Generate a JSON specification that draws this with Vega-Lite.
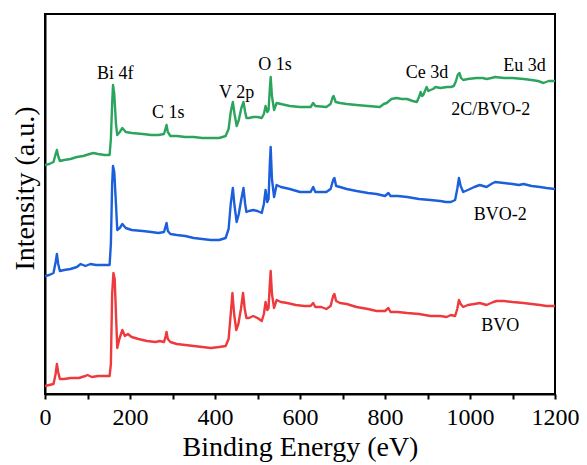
{
 "$schema": "https://vega.github.io/schema/vega-lite/v6.json",
 "width": 510,
 "height": 380,
 "autosize": {"type": "none"},
 "padding": {"left": 45, "top": 14, "right": 32, "bottom": 71},
 "background": "white",
 "config": {
  "view": {"stroke": "black", "strokeWidth": 2},
  "font": "Liberation Serif",
  "axis": {"labelFont": "Liberation Serif", "titleFont": "Liberation Serif"},
  "style": {"guide-label": {"font": "Liberation Serif"}, "guide-title": {"font": "Liberation Serif"}}
 },
 "datasets": {
  "spectra": [
   {"s":"BVO","E":0,"I":8},{"s":"BVO","E":10,"I":9},{"s":"BVO","E":20,"I":10},{"s":"BVO","E":25,"I":20},{"s":"BVO","E":28,"I":30},{"s":"BVO","E":31,"I":22},{"s":"BVO","E":35,"I":15},{"s":"BVO","E":45,"I":15},{"s":"BVO","E":60,"I":16},{"s":"BVO","E":80,"I":16},{"s":"BVO","E":95,"I":18},{"s":"BVO","E":100,"I":19},{"s":"BVO","E":110,"I":17},{"s":"BVO","E":125,"I":18},{"s":"BVO","E":140,"I":18},{"s":"BVO","E":152,"I":18},{"s":"BVO","E":155,"I":30},{"s":"BVO","E":158,"I":100},{"s":"BVO","E":161,"I":121},{"s":"BVO","E":164,"I":115},{"s":"BVO","E":167,"I":80},{"s":"BVO","E":170,"I":46},{"s":"BVO","E":175,"I":55},{"s":"BVO","E":182,"I":64},{"s":"BVO","E":188,"I":58},{"s":"BVO","E":195,"I":60},{"s":"BVO","E":204,"I":57},{"s":"BVO","E":220,"I":55},{"s":"BVO","E":240,"I":53},{"s":"BVO","E":260,"I":52},{"s":"BVO","E":270,"I":53},{"s":"BVO","E":280,"I":52},{"s":"BVO","E":284,"I":58},{"s":"BVO","E":286,"I":62},{"s":"BVO","E":289,"I":55},{"s":"BVO","E":295,"I":52},{"s":"BVO","E":310,"I":50},{"s":"BVO","E":330,"I":49},{"s":"BVO","E":350,"I":48},{"s":"BVO","E":370,"I":47},{"s":"BVO","E":390,"I":46},{"s":"BVO","E":410,"I":47},{"s":"BVO","E":425,"I":48},{"s":"BVO","E":432,"I":55},{"s":"BVO","E":437,"I":80},{"s":"BVO","E":441,"I":101},{"s":"BVO","E":445,"I":80},{"s":"BVO","E":450,"I":64},{"s":"BVO","E":455,"I":70},{"s":"BVO","E":461,"I":85},{"s":"BVO","E":466,"I":101},{"s":"BVO","E":470,"I":85},{"s":"BVO","E":474,"I":76},{"s":"BVO","E":480,"I":76},{"s":"BVO","E":490,"I":78},{"s":"BVO","E":500,"I":76},{"s":"BVO","E":510,"I":73},{"s":"BVO","E":515,"I":80},{"s":"BVO","E":519,"I":92},{"s":"BVO","E":523,"I":84},{"s":"BVO","E":526,"I":86},{"s":"BVO","E":529,"I":110},{"s":"BVO","E":531,"I":123},{"s":"BVO","E":534,"I":100},{"s":"BVO","E":539,"I":86},{"s":"BVO","E":545,"I":94},{"s":"BVO","E":555,"I":92},{"s":"BVO","E":570,"I":91},{"s":"BVO","E":590,"I":89},{"s":"BVO","E":610,"I":88},{"s":"BVO","E":625,"I":88},{"s":"BVO","E":631,"I":91},{"s":"BVO","E":636,"I":87},{"s":"BVO","E":650,"I":87},{"s":"BVO","E":662,"I":85},{"s":"BVO","E":672,"I":88},{"s":"BVO","E":678,"I":98},{"s":"BVO","E":681,"I":100},{"s":"BVO","E":685,"I":93},{"s":"BVO","E":694,"I":91},{"s":"BVO","E":710,"I":90},{"s":"BVO","E":733,"I":87},{"s":"BVO","E":760,"I":85},{"s":"BVO","E":780,"I":83},{"s":"BVO","E":800,"I":83},{"s":"BVO","E":808,"I":86},{"s":"BVO","E":813,"I":82},{"s":"BVO","E":830,"I":82},{"s":"BVO","E":852,"I":81},{"s":"BVO","E":880,"I":80},{"s":"BVO","E":907,"I":78},{"s":"BVO","E":930,"I":78},{"s":"BVO","E":945,"I":77},{"s":"BVO","E":955,"I":79},{"s":"BVO","E":965,"I":78},{"s":"BVO","E":970,"I":85},{"s":"BVO","E":974,"I":94},{"s":"BVO","E":978,"I":90},{"s":"BVO","E":984,"I":87},{"s":"BVO","E":995,"I":89},{"s":"BVO","E":1010,"I":90},{"s":"BVO","E":1023,"I":91},{"s":"BVO","E":1039,"I":89},{"s":"BVO","E":1055,"I":92},{"s":"BVO","E":1063,"I":93},{"s":"BVO","E":1080,"I":93},{"s":"BVO","E":1100,"I":92},{"s":"BVO","E":1126,"I":91},{"s":"BVO","E":1145,"I":90},{"s":"BVO","E":1165,"I":89},{"s":"BVO","E":1180,"I":88},{"s":"BVO","E":1200,"I":88},

   {"s":"BVO-2","E":0,"I":118},{"s":"BVO-2","E":10,"I":119},{"s":"BVO-2","E":20,"I":121},{"s":"BVO-2","E":25,"I":132},{"s":"BVO-2","E":28,"I":140},{"s":"BVO-2","E":31,"I":130},{"s":"BVO-2","E":35,"I":123},{"s":"BVO-2","E":45,"I":124},{"s":"BVO-2","E":60,"I":125},{"s":"BVO-2","E":75,"I":127},{"s":"BVO-2","E":84,"I":130},{"s":"BVO-2","E":95,"I":128},{"s":"BVO-2","E":107,"I":130},{"s":"BVO-2","E":120,"I":129},{"s":"BVO-2","E":140,"I":129},{"s":"BVO-2","E":152,"I":129},{"s":"BVO-2","E":155,"I":150},{"s":"BVO-2","E":158,"I":210},{"s":"BVO-2","E":160,"I":228},{"s":"BVO-2","E":163,"I":222},{"s":"BVO-2","E":167,"I":190},{"s":"BVO-2","E":170,"I":164},{"s":"BVO-2","E":176,"I":166},{"s":"BVO-2","E":182,"I":170},{"s":"BVO-2","E":190,"I":166},{"s":"BVO-2","E":204,"I":164},{"s":"BVO-2","E":230,"I":163},{"s":"BVO-2","E":250,"I":162},{"s":"BVO-2","E":267,"I":161},{"s":"BVO-2","E":280,"I":162},{"s":"BVO-2","E":284,"I":168},{"s":"BVO-2","E":286,"I":171},{"s":"BVO-2","E":289,"I":163},{"s":"BVO-2","E":295,"I":160},{"s":"BVO-2","E":310,"I":159},{"s":"BVO-2","E":330,"I":158},{"s":"BVO-2","E":350,"I":156},{"s":"BVO-2","E":370,"I":155},{"s":"BVO-2","E":390,"I":154},{"s":"BVO-2","E":410,"I":154},{"s":"BVO-2","E":425,"I":156},{"s":"BVO-2","E":432,"I":165},{"s":"BVO-2","E":437,"I":190},{"s":"BVO-2","E":442,"I":206},{"s":"BVO-2","E":446,"I":188},{"s":"BVO-2","E":451,"I":172},{"s":"BVO-2","E":456,"I":180},{"s":"BVO-2","E":462,"I":195},{"s":"BVO-2","E":467,"I":206},{"s":"BVO-2","E":471,"I":190},{"s":"BVO-2","E":474,"I":182},{"s":"BVO-2","E":480,"I":183},{"s":"BVO-2","E":490,"I":184},{"s":"BVO-2","E":500,"I":183},{"s":"BVO-2","E":510,"I":181},{"s":"BVO-2","E":515,"I":190},{"s":"BVO-2","E":519,"I":204},{"s":"BVO-2","E":523,"I":192},{"s":"BVO-2","E":526,"I":195},{"s":"BVO-2","E":529,"I":230},{"s":"BVO-2","E":531,"I":247},{"s":"BVO-2","E":534,"I":215},{"s":"BVO-2","E":539,"I":197},{"s":"BVO-2","E":545,"I":209},{"s":"BVO-2","E":555,"I":207},{"s":"BVO-2","E":576,"I":205},{"s":"BVO-2","E":600,"I":202},{"s":"BVO-2","E":625,"I":202},{"s":"BVO-2","E":631,"I":207},{"s":"BVO-2","E":636,"I":202},{"s":"BVO-2","E":662,"I":202},{"s":"BVO-2","E":672,"I":205},{"s":"BVO-2","E":678,"I":214},{"s":"BVO-2","E":681,"I":216},{"s":"BVO-2","E":685,"I":208},{"s":"BVO-2","E":694,"I":207},{"s":"BVO-2","E":710,"I":205},{"s":"BVO-2","E":733,"I":203},{"s":"BVO-2","E":760,"I":201},{"s":"BVO-2","E":780,"I":200},{"s":"BVO-2","E":800,"I":198},{"s":"BVO-2","E":808,"I":201},{"s":"BVO-2","E":813,"I":198},{"s":"BVO-2","E":830,"I":198},{"s":"BVO-2","E":852,"I":197},{"s":"BVO-2","E":880,"I":195},{"s":"BVO-2","E":907,"I":194},{"s":"BVO-2","E":930,"I":193},{"s":"BVO-2","E":943,"I":192},{"s":"BVO-2","E":955,"I":192},{"s":"BVO-2","E":965,"I":194},{"s":"BVO-2","E":970,"I":205},{"s":"BVO-2","E":974,"I":216},{"s":"BVO-2","E":978,"I":208},{"s":"BVO-2","E":984,"I":202},{"s":"BVO-2","E":995,"I":204},{"s":"BVO-2","E":1010,"I":207},{"s":"BVO-2","E":1023,"I":209},{"s":"BVO-2","E":1039,"I":207},{"s":"BVO-2","E":1050,"I":210},{"s":"BVO-2","E":1059,"I":212},{"s":"BVO-2","E":1080,"I":211},{"s":"BVO-2","E":1100,"I":210},{"s":"BVO-2","E":1115,"I":209},{"s":"BVO-2","E":1126,"I":210},{"s":"BVO-2","E":1145,"I":208},{"s":"BVO-2","E":1165,"I":207},{"s":"BVO-2","E":1180,"I":206},{"s":"BVO-2","E":1200,"I":205},

   {"s":"2C/BVO-2","E":0,"I":229},{"s":"2C/BVO-2","E":10,"I":230},{"s":"2C/BVO-2","E":20,"I":232},{"s":"2C/BVO-2","E":25,"I":240},{"s":"2C/BVO-2","E":28,"I":244},{"s":"2C/BVO-2","E":31,"I":238},{"s":"2C/BVO-2","E":35,"I":233},{"s":"2C/BVO-2","E":45,"I":234},{"s":"2C/BVO-2","E":60,"I":235},{"s":"2C/BVO-2","E":75,"I":237},{"s":"2C/BVO-2","E":90,"I":238},{"s":"2C/BVO-2","E":105,"I":240},{"s":"2C/BVO-2","E":114,"I":241},{"s":"2C/BVO-2","E":125,"I":240},{"s":"2C/BVO-2","E":140,"I":239},{"s":"2C/BVO-2","E":152,"I":239},{"s":"2C/BVO-2","E":155,"I":255},{"s":"2C/BVO-2","E":158,"I":290},{"s":"2C/BVO-2","E":160,"I":309},{"s":"2C/BVO-2","E":163,"I":300},{"s":"2C/BVO-2","E":167,"I":270},{"s":"2C/BVO-2","E":170,"I":259},{"s":"2C/BVO-2","E":176,"I":262},{"s":"2C/BVO-2","E":182,"I":266},{"s":"2C/BVO-2","E":190,"I":262},{"s":"2C/BVO-2","E":204,"I":261},{"s":"2C/BVO-2","E":230,"I":260},{"s":"2C/BVO-2","E":250,"I":259},{"s":"2C/BVO-2","E":267,"I":259},{"s":"2C/BVO-2","E":280,"I":260},{"s":"2C/BVO-2","E":284,"I":266},{"s":"2C/BVO-2","E":286,"I":269},{"s":"2C/BVO-2","E":289,"I":262},{"s":"2C/BVO-2","E":295,"I":258},{"s":"2C/BVO-2","E":310,"I":258},{"s":"2C/BVO-2","E":330,"I":257},{"s":"2C/BVO-2","E":350,"I":257},{"s":"2C/BVO-2","E":370,"I":256},{"s":"2C/BVO-2","E":390,"I":256},{"s":"2C/BVO-2","E":410,"I":256},{"s":"2C/BVO-2","E":425,"I":258},{"s":"2C/BVO-2","E":432,"I":265},{"s":"2C/BVO-2","E":437,"I":282},{"s":"2C/BVO-2","E":442,"I":292},{"s":"2C/BVO-2","E":446,"I":280},{"s":"2C/BVO-2","E":451,"I":268},{"s":"2C/BVO-2","E":456,"I":274},{"s":"2C/BVO-2","E":462,"I":286},{"s":"2C/BVO-2","E":467,"I":292},{"s":"2C/BVO-2","E":471,"I":282},{"s":"2C/BVO-2","E":474,"I":276},{"s":"2C/BVO-2","E":480,"I":276},{"s":"2C/BVO-2","E":490,"I":277},{"s":"2C/BVO-2","E":500,"I":277},{"s":"2C/BVO-2","E":510,"I":276},{"s":"2C/BVO-2","E":515,"I":280},{"s":"2C/BVO-2","E":519,"I":288},{"s":"2C/BVO-2","E":523,"I":282},{"s":"2C/BVO-2","E":526,"I":284},{"s":"2C/BVO-2","E":529,"I":305},{"s":"2C/BVO-2","E":531,"I":317},{"s":"2C/BVO-2","E":534,"I":298},{"s":"2C/BVO-2","E":539,"I":284},{"s":"2C/BVO-2","E":545,"I":291},{"s":"2C/BVO-2","E":555,"I":290},{"s":"2C/BVO-2","E":576,"I":288},{"s":"2C/BVO-2","E":600,"I":287},{"s":"2C/BVO-2","E":625,"I":287},{"s":"2C/BVO-2","E":631,"I":291},{"s":"2C/BVO-2","E":636,"I":288},{"s":"2C/BVO-2","E":662,"I":287},{"s":"2C/BVO-2","E":672,"I":290},{"s":"2C/BVO-2","E":677,"I":297},{"s":"2C/BVO-2","E":679,"I":298},{"s":"2C/BVO-2","E":684,"I":292},{"s":"2C/BVO-2","E":694,"I":291},{"s":"2C/BVO-2","E":710,"I":290},{"s":"2C/BVO-2","E":733,"I":289},{"s":"2C/BVO-2","E":760,"I":288},{"s":"2C/BVO-2","E":788,"I":287},{"s":"2C/BVO-2","E":797,"I":290},{"s":"2C/BVO-2","E":804,"I":291},{"s":"2C/BVO-2","E":815,"I":295},{"s":"2C/BVO-2","E":827,"I":296},{"s":"2C/BVO-2","E":840,"I":295},{"s":"2C/BVO-2","E":852,"I":295},{"s":"2C/BVO-2","E":865,"I":293},{"s":"2C/BVO-2","E":875,"I":292},{"s":"2C/BVO-2","E":880,"I":297},{"s":"2C/BVO-2","E":884,"I":302},{"s":"2C/BVO-2","E":887,"I":298},{"s":"2C/BVO-2","E":890,"I":299},{"s":"2C/BVO-2","E":895,"I":304},{"s":"2C/BVO-2","E":898,"I":307},{"s":"2C/BVO-2","E":902,"I":303},{"s":"2C/BVO-2","E":907,"I":304},{"s":"2C/BVO-2","E":913,"I":305},{"s":"2C/BVO-2","E":919,"I":307},{"s":"2C/BVO-2","E":930,"I":306},{"s":"2C/BVO-2","E":946,"I":307},{"s":"2C/BVO-2","E":955,"I":307},{"s":"2C/BVO-2","E":962,"I":308},{"s":"2C/BVO-2","E":967,"I":313},{"s":"2C/BVO-2","E":971,"I":319},{"s":"2C/BVO-2","E":975,"I":321},{"s":"2C/BVO-2","E":979,"I":316},{"s":"2C/BVO-2","E":984,"I":314},{"s":"2C/BVO-2","E":995,"I":315},{"s":"2C/BVO-2","E":1015,"I":316},{"s":"2C/BVO-2","E":1030,"I":316},{"s":"2C/BVO-2","E":1039,"I":315},{"s":"2C/BVO-2","E":1050,"I":316},{"s":"2C/BVO-2","E":1059,"I":317},{"s":"2C/BVO-2","E":1080,"I":316},{"s":"2C/BVO-2","E":1100,"I":316},{"s":"2C/BVO-2","E":1126,"I":315},{"s":"2C/BVO-2","E":1145,"I":314},{"s":"2C/BVO-2","E":1160,"I":313},{"s":"2C/BVO-2","E":1173,"I":311},{"s":"2C/BVO-2","E":1185,"I":313},{"s":"2C/BVO-2","E":1200,"I":313}
  ],
  "labels": [
   {"E":165,"I":320,"t":"Bi 4f"},
   {"E":290,"I":281,"t":"C 1s"},
   {"E":451,"I":301,"t":"V 2p"},
   {"E":541,"I":329,"t":"O 1s"},
   {"E":899,"I":321,"t":"Ce 3d"},
   {"E":1128,"I":328,"t":"Eu 3d"},
   {"E":1049,"I":284,"t":"2C/BVO-2"},
   {"E":1071,"I":179,"t":"BVO-2"},
   {"E":1071,"I":68,"t":"BVO"}
  ]
 },
 "layer": [
  {
   "data": {"name": "spectra"},
   "mark": {"type": "line", "strokeWidth": 2.4, "clip": true, "strokeJoin": "round"},
   "encoding": {
    "x": {"field": "E", "type": "quantitative", "scale": {"domain": [0, 1200], "nice": false},
     "axis": {"title": "Binding Energy (eV)", "values": [0,100,200,300,400,500,600,700,800,900,1000,1100,1200],
      "labelExpr": "datum.value % 200 === 0 ? datum.label : ''", "labelOverlap": false, "labelFlush": false,
      "format": "d", "grid": false, "domainColor": "black", "domainWidth": 2, "tickColor": "black", "tickWidth": 2, "tickSize": 5,
      "labelFont": "Liberation Serif", "labelFontSize": 24, "labelColor": "black", "labelPadding": 6,
      "titleFont": "Liberation Serif", "titleFontSize": 28, "titleFontWeight": "normal", "titleColor": "black", "titlePadding": 4}},
    "y": {"field": "I", "type": "quantitative", "scale": {"domain": [0, 380], "nice": false},
     "axis": {"title": "Intensity (a.u.)", "labels": false, "ticks": false, "grid": false, "domainColor": "black", "domainWidth": 2,
      "titleFont": "Liberation Serif", "titleFontSize": 28, "titleFontWeight": "normal", "titleColor": "black", "titlePadding": 6, "titleY": 174}},
    "color": {"field": "s", "type": "nominal", "scale": {"domain": ["BVO", "BVO-2", "2C/BVO-2"], "range": ["#ee3a3d", "#1c5fdc", "#2ba55d"]}, "legend": null}
   }
  },
  {
   "data": {"name": "labels"},
   "mark": {"type": "text", "font": "Liberation Serif", "fontSize": 18, "baseline": "middle", "align": "center", "color": "black"},
   "encoding": {
    "x": {"field": "E", "type": "quantitative"},
    "y": {"field": "I", "type": "quantitative"},
    "text": {"field": "t"}
   }
  }
 ]
}
